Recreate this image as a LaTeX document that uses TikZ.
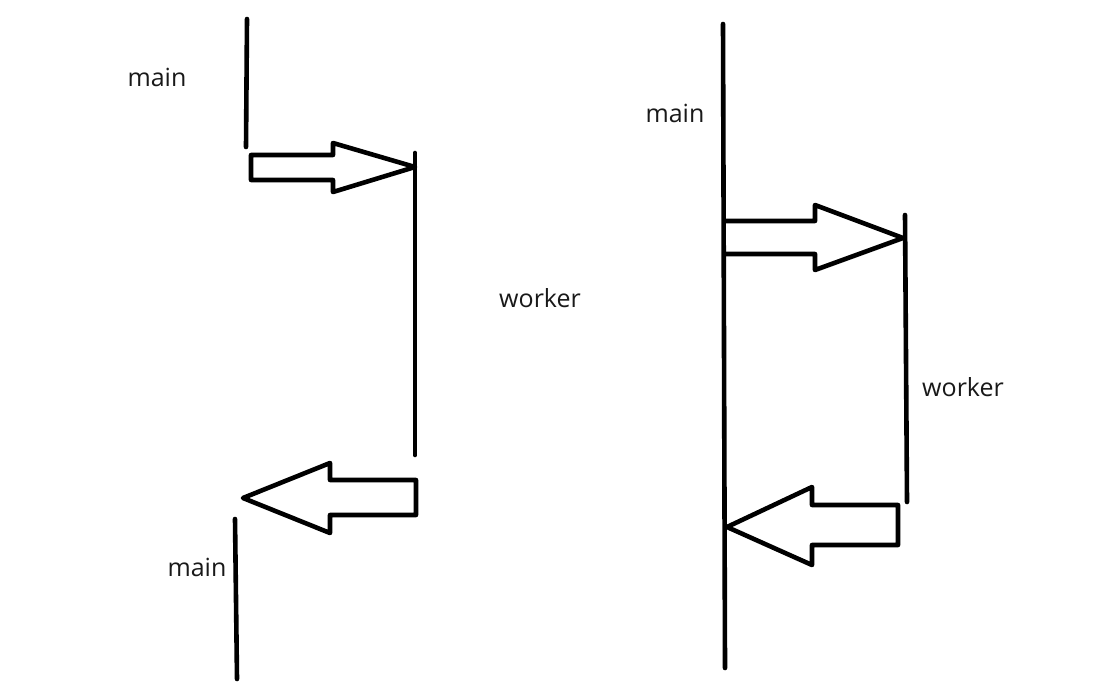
\documentclass[tikz,border=0pt]{standalone}
\usepackage{fontspec}
\setmainfont{Open Sans}
\begin{document}
\begin{tikzpicture}[x=1pt,y=-1pt,
  pen/.style={line width=4.6pt,line cap=round,line join=round,black},
  lbl/.style={font=\fontsize{25}{30}\selectfont,text=black!90,inner sep=0pt}]
\useasboundingbox[fill=white] (0,0) rectangle (1107,696);
% ---------- left diagram ----------
\coordinate (m1a) at (247,19);
\coordinate (m1b) at (246,147);
\draw[pen] (m1a) -- (m1b);
\node[lbl] (lmain1) at (157,77) {main};
\coordinate (w1a) at (415,153);
\coordinate (w1b) at (415,455);
\draw[pen] (w1a) -- (w1b);
\node[lbl] (lworker) at (540,298) {worker};
% arrow to worker
\draw[pen] (251,155) -- (333,155) -- (333,143) -- (415,167) -- (333,192) -- (333,180) -- (251,180) -- cycle;
% arrow back
\draw[pen] (416,480) -- (330,480) -- (330,463) -- (243,498) -- (330,533) -- (330,515) -- (416,515) -- cycle;
\coordinate (m2a) at (235,519);
\coordinate (m2b) at (237,679);
\draw[pen] (m2a) -- (m2b);
\node[lbl] (lmain2) at (197,567) {main};
% ---------- right diagram ----------
\coordinate (rma) at (723,24);
\coordinate (rmb) at (725,668);
\draw[pen] (rma) -- (rmb);
\node[lbl] (rmain) at (675,113) {main};
\coordinate (rwa) at (905,215);
\coordinate (rwb) at (907,502);
\draw[pen] (rwa) -- (rwb);
\node[lbl] (rworker) at (963,387) {worker};
\draw[pen] (725,221) -- (815,221) -- (815,205) -- (903,238) -- (815,270) -- (815,254) -- (725,254);
\draw[pen] (898,505) -- (812,505) -- (812,487) -- (727,527) -- (812,565) -- (812,545) -- (898,545) -- cycle;
\end{tikzpicture}
\end{document}
